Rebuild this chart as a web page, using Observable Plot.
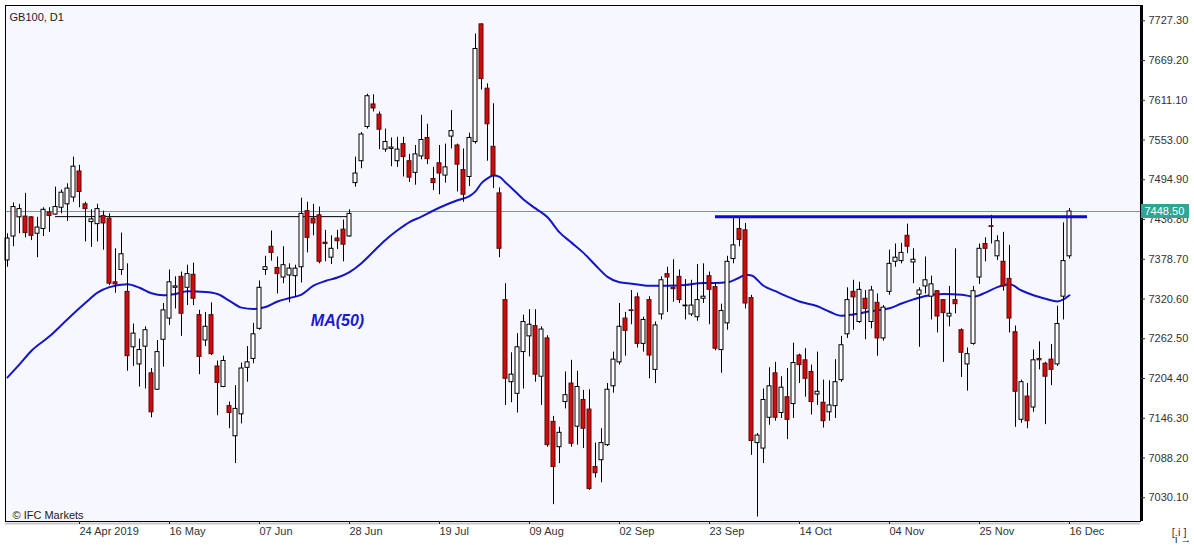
<!DOCTYPE html>
<html><head><meta charset="utf-8">
<script src="https://cdn.jsdelivr.net/npm/d3@7"></script>
<script src="https://cdn.jsdelivr.net/npm/@observablehq/plot@0.6"></script>
<style>html,body{margin:0;padding:0;background:#fff;} svg{display:block}</style>
</head><body><div id="chart"></div>
<script>
// Daily candles, index 0..177 (last = 16 Dec 2019)
const open = [7377,7412,7440,7441,7440,7416,7423,7447,7444,7454,7459,7469,7507,7459,7433,7430,7442,7438,7345,7363,
7331,7250,7225,7251,7212,7188,7261,7292,7337,7353,7337,7356,7297,7260,7297,7222,7192,7164,7120,7152,
7220,7233,7277,7363,7397,7366,7352,7355,7354,7367,7449,7438,7443,7403,7381,7409,7422,7412,7490,7522,
7572,7605,7590,7539,7540,7522,7547,7522,7505,7529,7556,7496,7519,7501,7558,7545,7509,7499,7550,7722,
7628,7543,7475,7319,7199,7182,7243,7266,7281,7207,7263,7141,7104,7170,7197,7134,7173,7159,7075,7085,
7107,7193,7228,7292,7304,7323,7255,7319,7217,7298,7357,7337,7353,7310,7298,7294,7321,7354,7338,7246,
7285,7379,7423,7421,7322,7110,7102,7147,7212,7154,7177,7167,7238,7231,7214,7181,7169,7155,7164,7202,
7269,7331,7287,7321,7287,7315,7263,7331,7375,7376,7413,7374,7327,7339,7324,7332,7319,7295,7319,7275,
7225,7255,7352,7401,7427,7383,7375,7350,7272,7144,7178,7162,7233,7226,7232,7225,7324,7383];
const high = [7416,7461,7459,7475,7441,7440,7454,7454,7484,7480,7489,7528,7516,7462,7451,7459,7449,7445,7394,7417,
7372,7284,7262,7280,7219,7260,7314,7363,7353,7360,7370,7373,7304,7301,7315,7230,7237,7170,7194,7227,
7251,7285,7347,7383,7420,7382,7397,7372,7370,7468,7462,7459,7455,7421,7413,7421,7436,7451,7528,7564,
7620,7619,7594,7569,7556,7557,7557,7532,7545,7589,7576,7513,7545,7547,7596,7547,7540,7563,7708,7723,
7635,7606,7483,7343,7242,7270,7297,7305,7305,7280,7267,7149,7133,7214,7231,7215,7187,7188,7110,7131,
7197,7243,7314,7301,7333,7329,7294,7324,7287,7353,7367,7378,7363,7349,7348,7371,7372,7360,7343,7313,
7383,7440,7440,7431,7326,7124,7189,7220,7228,7207,7219,7256,7240,7248,7224,7243,7202,7201,7232,7266,
7337,7348,7345,7333,7339,7328,7311,7392,7401,7402,7430,7394,7337,7382,7354,7333,7319,7339,7394,7277,
7249,7339,7401,7410,7443,7413,7418,7399,7281,7202,7197,7246,7258,7228,7254,7310,7432,7453];
const low = [7367,7397,7416,7410,7406,7381,7412,7418,7443,7445,7434,7462,7454,7404,7396,7404,7392,7340,7329,7355,
7215,7222,7192,7189,7147,7187,7221,7282,7306,7266,7311,7311,7210,7251,7238,7150,7191,7131,7080,7138,
7199,7226,7275,7355,7376,7328,7343,7315,7323,7344,7388,7413,7372,7375,7371,7393,7375,7411,7484,7511,
7569,7594,7539,7535,7514,7513,7499,7491,7487,7524,7517,7479,7473,7490,7540,7477,7462,7485,7547,7626,
7522,7482,7381,7165,7169,7154,7189,7236,7199,7165,7104,7020,7080,7160,7104,7107,7102,7041,7059,7052,
7105,7183,7224,7237,7283,7249,7243,7204,7197,7290,7301,7316,7314,7290,7295,7288,7314,7283,7245,7212,
7275,7372,7397,7306,7092,7002,7080,7136,7142,7146,7115,7146,7197,7177,7151,7165,7132,7142,7146,7199,
7263,7275,7285,7261,7277,7237,7259,7326,7367,7372,7387,7343,7250,7328,7290,7271,7228,7280,7299,7206,
7186,7253,7342,7375,7401,7377,7332,7271,7133,7139,7131,7155,7217,7137,7194,7222,7290,7379];
const close = [7409,7455,7452,7417,7413,7425,7451,7442,7455,7476,7482,7514,7477,7452,7437,7452,7431,7343,7342,7386,
7237,7270,7246,7275,7155,7243,7304,7345,7339,7299,7357,7321,7236,7280,7240,7198,7230,7154,7160,7219,
7228,7269,7337,7367,7388,7357,7370,7365,7365,7445,7410,7431,7375,7401,7394,7405,7400,7445,7504,7561,
7617,7599,7568,7550,7542,7539,7528,7498,7532,7553,7525,7490,7504,7513,7566,7517,7473,7556,7686,7642,
7576,7501,7394,7204,7210,7250,7287,7283,7210,7276,7107,7075,7125,7180,7109,7192,7131,7043,7066,7110,
7188,7232,7280,7274,7303,7255,7290,7238,7282,7348,7352,7335,7319,7311,7311,7319,7324,7334,7248,7303,
7375,7399,7407,7314,7113,7121,7173,7193,7147,7191,7144,7227,7224,7204,7170,7185,7142,7165,7199,7253,
7319,7323,7334,7306,7333,7263,7308,7372,7381,7388,7397,7378,7333,7348,7342,7295,7300,7299,7313,7242,
7240,7332,7394,7394,7426,7405,7339,7292,7185,7199,7142,7231,7231,7207,7217,7284,7376,7448.5];

// MA(50) read at sampled candle indices
const maIndex = [0,2,4,7,10,13,15,17,20,22,24,26,28,30,33,35,37,39,41,43,45,47,49,51,53,55,57,59,61,63,65,67,69,71,73,75,77,78,79,80,81,82,83,84,86,88,90,92,94,96,98,100,102,104,107,110,113,116,118,120,122,123,124,126,128,130,132,135,137,139,141,144,147,149,151,153,156,159,161,163,165,167,169,171,173,175,176,177];
const maValue = [7206,7225,7245,7266,7291,7315,7330,7338,7342,7337,7329,7326,7328,7332,7331,7328,7318,7308,7306,7309,7317,7322,7327,7340,7347,7352,7360,7373,7390,7407,7421,7433,7441,7450,7458,7465,7471,7478,7490,7497,7501,7499,7491,7483,7466,7453,7440,7418,7403,7388,7370,7353,7345,7343,7340,7340,7341,7344,7344,7345,7352,7356,7355,7340,7332,7324,7317,7310,7302,7296,7298,7303,7307,7314,7320,7325,7328,7327,7324,7330,7338,7342,7333,7326,7321,7317,7320,7326];

// Horizontal levels (start index, end index, value)
const supportStart = [8, 118];
const supportEnd = [57, 180];
const supportValue = [7441, 7441];

// Axis ticks
const yTicks = [7030.1,7088.2,7146.3,7204.4,7262.5,7320.6,7378.7,7436.8,7494.9,7553.0,7611.1,7669.2,7727.3];
const xTickIndex = [12,27,42,57,72,87,102,117,132,147,162,177];
const xTickLabels = ["24 Apr 2019","16 May","07 Jun","28 Jun","19 Jul","09 Aug","02 Sep","23 Sep","14 Oct","04 Nov","25 Nov","16 Dec"];

const candles = close.map((c, i) => ({i, o: open[i], h: high[i], l: low[i], c, up: c >= open[i]}));
const ma = maIndex.map((i, k) => ({i, v: maValue[k]}));
const lastClose = close[close.length - 1];
const xMin = -1/3, xMax = 1133/6;
const labelOf = new Map(xTickIndex.map((d, k) => [d, xTickLabels[k]]));
const fmt = d3.format(".2f");

const chart = Plot.plot({
  width: 1194, height: 545,
  marginLeft: 5, marginRight: 54, marginTop: 5, marginBottom: 24,
  x: {domain: [xMin, xMax], axis: null},
  y: {domain: [6995.4, 7749.6], axis: null},
  style: {background: "#ffffff", fontFamily: "'Liberation Sans', Arial, sans-serif", fontSize: "11px", color: "#222"},
  marks: [
    Plot.frame({fill: "#f6f7ff", stroke: "none"}),
    Plot.ruleY([lastClose], {stroke: "#3fb3a0", strokeWidth: 1}),
    Plot.ruleY([0], {y: () => supportValue[0], x1: () => supportStart[0], x2: () => supportEnd[0], stroke: "#000", strokeWidth: 1}),
    Plot.line(ma, {x: "i", y: "v", stroke: "#1414c8", strokeWidth: 2, curve: "monotone-x"}),
    Plot.ruleX(candles, {x: "i", y1: "l", y2: "h", stroke: "#000", strokeWidth: 1}),
    Plot.rect(candles, {x1: d => d.i - 1/3, x2: d => d.i + 1/3, y1: "o", y2: "c",
      fill: d => d.up ? "#ffffff" : "#d20a0a", stroke: d => d.up ? "#000" : "#5a0a0a", strokeWidth: 1}),
    Plot.ruleY([0], {y: () => supportValue[1], x1: () => supportStart[1], x2: () => supportEnd[1], stroke: "#0a0ae0", strokeWidth: 3}),
    Plot.text([{i: 55, v: 7288}], {x: "i", y: "v", text: () => "MA(50)", fill: "#1a1ad0", fontSize: 16, fontWeight: "bold", fontStyle: "italic"}),
    Plot.text(["GB100, D1"], {frameAnchor: "top-left", dx: 4, dy: 8, fill: "#222"}),
    Plot.text(["\u00a9 IFC Markets"], {frameAnchor: "bottom-left", dx: 7, dy: -3, fill: "#222"}),
    Plot.frame({stroke: "#000", strokeWidth: 1}),
    Plot.ruleX([xMax], {stroke: "#000", strokeWidth: 3, dx: 1}),
    Plot.ruleY([xMin], {y: () => 6995.4, x1: () => xMin, x2: () => xMax, stroke: "#c8c8c8", strokeWidth: 2, dy: 2}),
    Plot.axisY({anchor: "right", ticks: yTicks, tickFormat: fmt, tickSize: 4, tickPadding: 4, fill: "#333", stroke: "#333"}),
    Plot.rect([lastClose], {x1: () => xMax, x2: () => xMax, y1: d => d, y2: d => d,
      insetLeft: 1, insetRight: -49, insetTop: -7, insetBottom: -7, fill: "#2ea692"}),
    Plot.text([lastClose], {x: () => xMax, y: d => d, text: fmt, dx: 4, textAnchor: "start", fill: "#ffffff"}),
    Plot.axisX({ticks: xTickIndex, tickFormat: d => labelOf.get(d), textAnchor: "start", tickSize: 3, tickPadding: 3, fill: "#333"}),
    Plot.text(["[ i ]"], {frameAnchor: "bottom-right", dx: 46, dy: 14, textAnchor: "end", fill: "#333", fontSize: 11})
  ]
});
document.getElementById("chart").appendChild(chart);
</script>
</body></html>
